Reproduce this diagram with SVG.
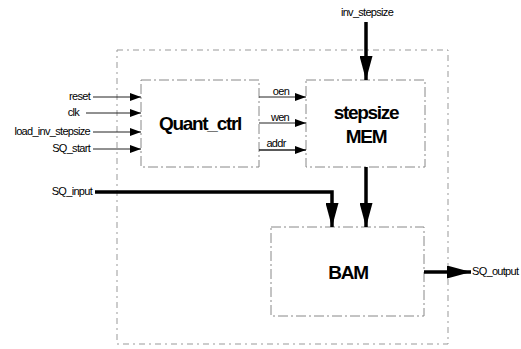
<svg xmlns="http://www.w3.org/2000/svg" width="521" height="349" viewBox="0 0 521 349">
<defs>
<marker id="sa" markerWidth="11" markerHeight="8" refX="11" refY="4" orient="auto" markerUnits="userSpaceOnUse" viewBox="0 0 11 8"><path d="M0,0 L11,4 L0,8 Z" fill="#000"/></marker>
<marker id="ba" markerWidth="24" markerHeight="13" refX="24" refY="6.5" orient="auto" markerUnits="userSpaceOnUse" viewBox="0 0 24 13"><path d="M0,0 L24,6.5 L0,13 Z" fill="#000"/></marker>
</defs>
<style>
.box{fill:#fff;stroke:#888;stroke-width:1;stroke-dasharray:10 3 2 3}
.outer{fill:none;stroke:#999;stroke-width:1;stroke-dasharray:6 4 2 4}
.thin{fill:none;stroke:#222;stroke-width:1;marker-end:url(#sa)}
.thick{fill:none;stroke:#000;stroke-width:3.5;marker-end:url(#ba)}
.lbl{font-family:"Liberation Sans",Arial,sans-serif;font-size:11px;fill:#000;letter-spacing:-0.7px}
.big{font-family:"Liberation Sans",Arial,sans-serif;font-size:19px;font-weight:bold;fill:#000;letter-spacing:-1.3px;text-anchor:middle}
</style>
<rect class="outer" x="117" y="50" width="331" height="294"/>
<g id="quant_ctrl">
<rect class="box" x="141" y="80" width="118" height="87"/>
<text class="big" x="200" y="130">Quant_ctrl</text>
</g>
<g id="stepsize_mem">
<rect class="box" x="306" y="80" width="119" height="87"/>
<text class="big" x="366" y="119">stepsize</text>
<text class="big" x="366" y="143">MEM</text>
</g>
<g id="bam">
<rect class="box" x="271" y="227" width="153" height="89"/>
<text class="big" x="348" y="279">BAM</text>
</g>
<g id="connectors">
<path class="thin" d="M93,97 H141"/>
<path class="thin" d="M86,113 H141"/>
<path class="thin" d="M93,132 H141"/>
<path class="thin" d="M93,149 H141"/>
<path class="thin" d="M259,97 H306"/>
<path class="thin" d="M259,123 H306"/>
<path class="thin" d="M259,150 H306" style="stroke-width:1.5"/>
<path class="thick" d="M366,22 V80"/>
<path class="thick" d="M95,192 H332 V227"/>
<path class="thick" d="M366,167 V227"/>
<path class="thick" d="M424,272 H471"/>
</g>
<g id="labels">
<text class="lbl" x="90" y="100" text-anchor="end">reset</text>
<text class="lbl" x="79" y="116" text-anchor="end">clk</text>
<text class="lbl" x="90" y="135" text-anchor="end">load_inv_stepsize</text>
<text class="lbl" x="90" y="152" text-anchor="end">SQ_start</text>
<text class="lbl" x="281" y="95" text-anchor="middle">oen</text>
<text class="lbl" x="280" y="121" text-anchor="middle">wen</text>
<text class="lbl" x="276" y="147" text-anchor="middle">addr</text>
<text class="lbl" x="367" y="16" text-anchor="middle">inv_stepsize</text>
<text class="lbl" x="92" y="195" text-anchor="end">SQ_input</text>
<text class="lbl" x="472" y="275">SQ_output</text>
</g>
</svg>
